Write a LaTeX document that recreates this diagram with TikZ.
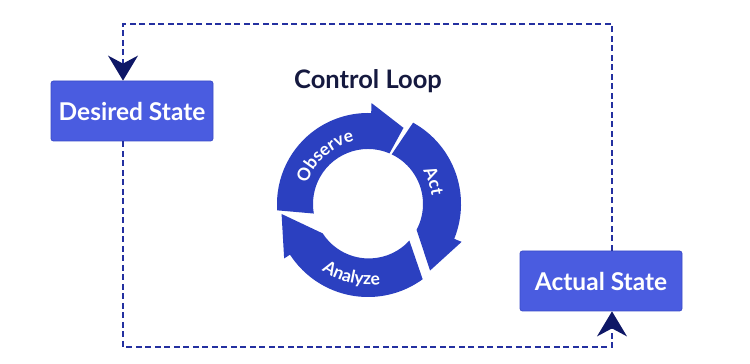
\documentclass[tikz,border=0pt]{standalone}
\usepackage{fontspec}
\setmainfont{Lato}
\usetikzlibrary{arrows.meta, positioning, calc, decorations.text}
\definecolor{boxblue}{HTML}{4A5CE0}
\definecolor{boxedge}{HTML}{3A4BC8}
\definecolor{ringblue}{HTML}{2B40C0}
\definecolor{titlenavy}{HTML}{15193F}
\definecolor{dashnavy}{HTML}{2430A0}
\definecolor{tipnavy}{HTML}{0E1766}
\newcommand\ringfont{\fontsize{17.5}{18}\selectfont\bfseries}

\begin{document}
\begin{tikzpicture}[x=1pt, y=1pt,
    statebox/.style={draw=boxedge, fill=boxblue, line width=0.8pt, rounded corners=2.5pt,
      minimum width=162pt, minimum height=60pt, text=white, font=\fontsize{24.5}{28}\selectfont\bfseries},
    loopline/.style={draw=dashnavy, line width=1.3pt, dash pattern=on 6pt off 3.5pt,
      -{Stealth[length=25pt, width=30pt, inset=8pt, color=tipnavy]}},
    ringlabel/.style={decorate, decoration={text along path, text align=center, text color=white}}]
    \useasboundingbox (0,0) rectangle (750,364);

    % States
    \node[statebox] (desired) at (132,253) {Desired State};
    \node[statebox] (actual) at (601,83) {Actual State};

    % Title
    \node[text=titlenavy, font=\fontsize{25.5}{30}\selectfont\bfseries] (title) at (368,283) {Control Loop};

    % Feedback lines
    \coordinate (topline) at (0,340);
    \coordinate (bottomline) at (0,17);
    \draw[loopline] ([xshift=11pt]actual.north) -- ([xshift=11pt]actual.north |- topline) -| ([xshift=-9pt]desired.north);
    \draw[loopline] ([xshift=-9pt]desired.south) -- ([xshift=-9pt]desired.south |- bottomline) -| ([xshift=11pt]actual.south);

    % Control loop ring
    \begin{scope}[shift={(368,160)}]
        \fill[ringblue] (184:91) arc[start angle=184, end angle=88, radius=91] -- (88:101) -- (65:84)
            -- (67:55) arc[start angle=67, end angle=190, radius=55] -- cycle;
        \fill[ringblue] (61:93) arc[start angle=61, end angle=-22, radius=93] -- (-22:101) -- (-47:91)
            -- (-28:55) arc[start angle=-28, end angle=64.5, radius=55] -- cycle;
        \fill[ringblue] (-54:93) arc[start angle=-54, end angle=-147, radius=93] -- (-147:100) -- (-173.4:87)
            -- (-147:54) arc[start angle=-147, end angle=-42.5, radius=55] -- cycle;

        % Labels
        \path[ringlabel, decoration={text={|\ringfont|Observe}}] (178:64) arc[start angle=178, end angle=86, radius=64];
        \path[ringlabel, decoration={text={|\ringfont|Act}}] (45:64) arc[start angle=45, end angle=-7, radius=64];
        \path[ringlabel, decoration={text={|\ringfont|Analyze}}] (220:81) arc[start angle=220, end angle=294, radius=81];
    \end{scope}
\end{tikzpicture}
\end{document}
